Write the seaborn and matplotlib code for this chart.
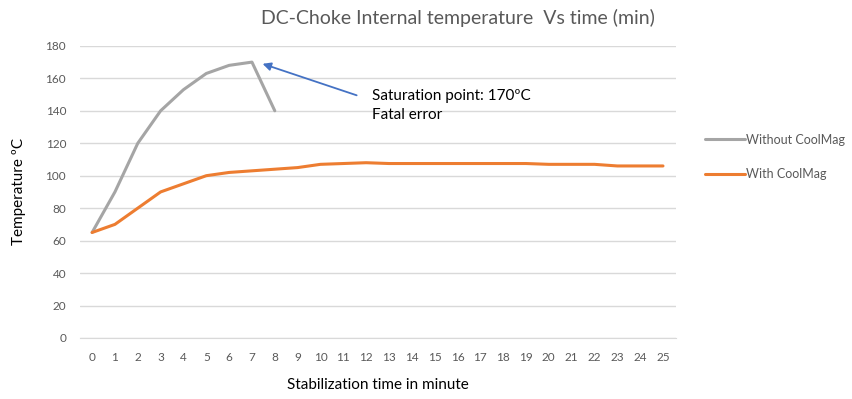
import matplotlib
matplotlib.use("Agg")
import matplotlib.pyplot as plt
import seaborn as sns
import pandas as pd

# --- data ---
minutes = list(range(26))
without_x = [0, 1, 2, 3, 4, 5, 6, 7, 8]
without_temp = [65, 90, 120, 140, 153, 163, 168, 170, 140]
with_temp = [65, 70, 80, 90, 95, 100, 102, 103, 104, 105, 107, 107.5, 108,
             107.5, 107.5, 107.5, 107.5, 107.5, 107.5, 107.5, 107, 107, 107,
             106, 106, 106]

df_without = pd.DataFrame({"minute": without_x, "temp": without_temp})
df_with = pd.DataFrame({"minute": minutes, "temp": with_temp})

sns.set_style("white")
plt.rcParams['font.family'] = ['Lato', 'DejaVu Sans']
txt = "#595959"

fig = plt.figure(figsize=(8.53, 3.99), dpi=100)
ax = fig.add_axes([0.0938, 0.153, 0.6987, 0.732])

sns.lineplot(data=df_without, x="minute", y="temp", color="#A5A5A5", lw=2.2,
             label="Without CoolMag", ax=ax)
sns.lineplot(data=df_with, x="minute", y="temp", color="#ED7D31", lw=2.2,
             label="With CoolMag", ax=ax)

ax.set_ylim(0, 180)
ax.set_yticks(range(0, 181, 20))
ax.set_xlim(-0.53, 25.57)
ax.set_xticks(minutes)
ax.grid(axis="y", color="#D9D9D9", lw=1)
ax.tick_params(colors=txt, labelsize=8.5, length=0)
ax.tick_params(axis="x", pad=10)
ax.tick_params(axis="y", pad=10)
for s in ["top", "right", "left"]:
    ax.spines[s].set_visible(False)
ax.spines["bottom"].set_color("#D9D9D9")

ax.set_xlabel("Stabilization time in minute", color="black", fontsize=11, labelpad=11)
ax.set_ylabel("Temperature ºC", color="black", fontsize=11, labelpad=14)
fig.text(0.537, 0.955, "DC-Choke Internal temperature  Vs time (min)",
         ha="center", va="center", fontsize=14, color=txt)

ax.annotate("", xy=(7.35, 169.5), xytext=(11.7, 149),
            arrowprops=dict(arrowstyle="-|>", color="#4472C4", lw=1.3,
                            mutation_scale=12))
ax.text(12.25, 143.5, "Saturation point: 170ºC\nFatal error", fontsize=11,
        color="black", va="center", ha="left", linespacing=1.45)

leg = ax.legend(loc="center left", bbox_to_anchor=(1.03, 0.62), frameon=False,
                fontsize=9, handlelength=3.2, handletextpad=0.1, labelspacing=1.8,
                labelcolor=txt)

fig.savefig("out.png", dpi=100)
